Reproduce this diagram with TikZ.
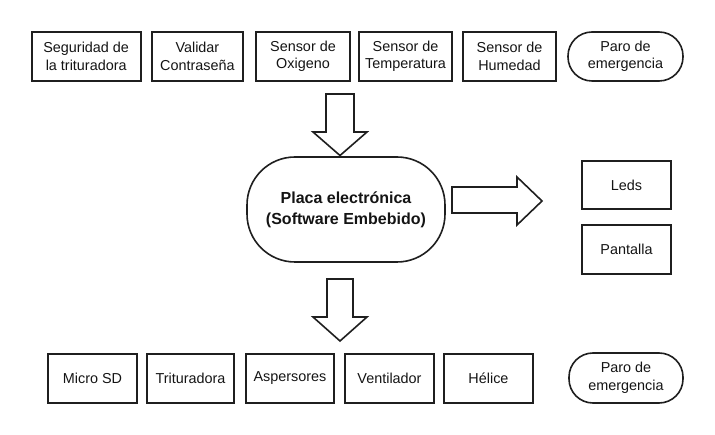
\documentclass[tikz,border=0pt]{standalone}
\usepackage{fontspec}
\setmainfont{Liberation Sans}
\begin{document}
\begin{tikzpicture}[x=1pt,y=-1pt,
  lbl/.style={font=\fontsize{14.4}{17.5}\selectfont, text=black!92, align=center},
  boxn/.style={lbl, draw=black!88, line width=1.6pt, inner sep=0pt, minimum height=49pt},
  pill/.style={lbl, draw=black!88, line width=1.6pt, inner sep=0pt, minimum height=49pt, rounded corners=24pt},
  blk/.style={draw=black!88, line width=1.6pt, fill=white, line join=miter}]
\useasboundingbox (0,0) rectangle (715,435);
% top row
\node[boxn, minimum width=109pt] (seg) at (86.2,56.5) {Seguridad de\\la trituradora};
\node[boxn, minimum width=91pt] (val) at (197.4,56.5) {Validar\\Contraseña};
\node[boxn, minimum width=94pt] (oxi) at (303,56.5) {Sensor de\\Oxigeno};
\node[boxn, minimum width=93pt] (tem) at (405.5,56.5) {Sensor de\\Temperatura};
\node[boxn, minimum width=93pt] (hum) at (509.5,56.5) {Sensor de\\Humedad};
\node[pill, minimum width=115pt] (paro1) at (625.5,56.5) {Paro de\\emergencia};
% center
\node[lbl, draw=black!88, line width=1.6pt, inner sep=0pt, minimum width=198pt, minimum height=105pt, rounded corners=48pt,
  font=\fontsize{16}{21}\selectfont\bfseries] (placa) at (346,209.5) {Placa electrónica\\(Software Embebido)};
% right
\node[boxn, minimum width=89pt, minimum height=48pt] (leds) at (626.5,185) {Leds};
\node[boxn, minimum width=89pt] (pant) at (626.5,249.5) {Pantalla};
% bottom row
\node[boxn, minimum width=89pt, minimum height=49pt] (sd) at (92.5,378.5) {Micro SD};
\node[boxn, minimum width=87pt] (tri) at (190.5,378.5) {Trituradora};
\node[boxn, minimum width=88pt] (asp) at (290,378.5) {Aspersores};
\node[boxn, minimum width=89pt] (ven) at (389.5,378.5) {Ventilador};
\node[boxn, minimum width=89pt] (hel) at (488.5,378.5) {Hélice};
\node[pill, minimum width=114pt, minimum height=50pt] (paro2) at (626,378) {Paro de\\emergencia};
% block arrows
\draw[blk] (326,94) -- (354,94) -- (354,132) -- (367,132) -- (340,155.5) -- (313,132) -- (326,132) -- cycle;
\draw[blk] (327,279) -- (353,279) -- (353,317) -- (367,317) -- (340,341) -- (313,317) -- (327,317) -- cycle;
\draw[blk] (452,187) -- (517,187) -- (517,177) -- (542,201) -- (517,225) -- (517,213) -- (452,213) -- cycle;
\end{tikzpicture}
\end{document}
